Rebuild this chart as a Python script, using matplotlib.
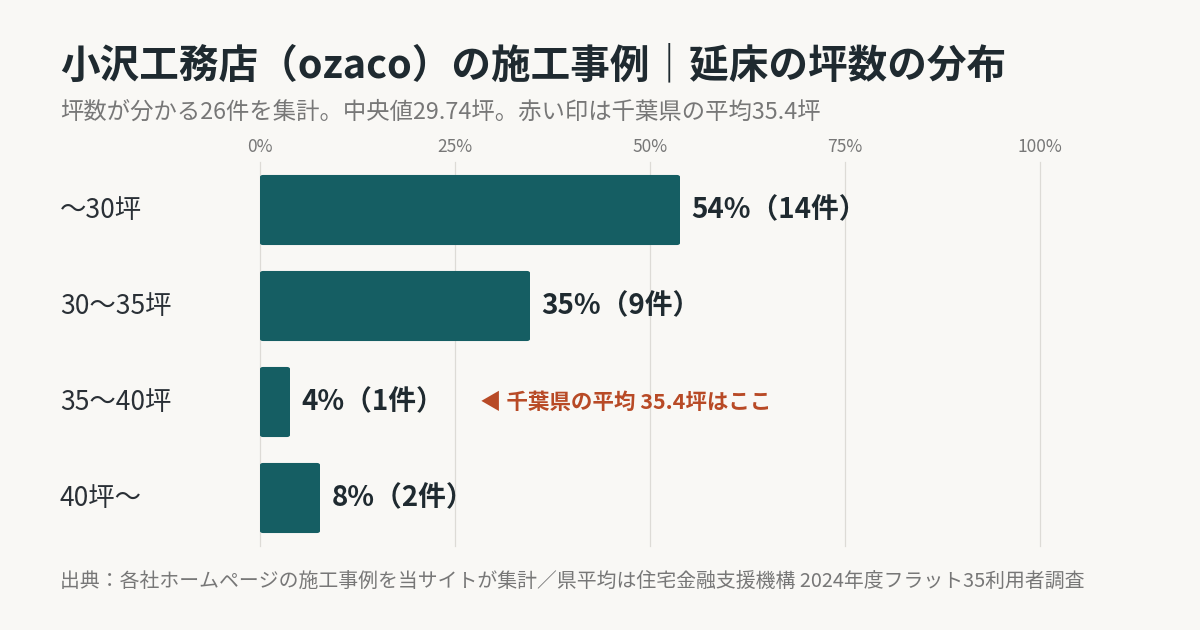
import matplotlib
matplotlib.use("Agg")
import matplotlib.pyplot as plt
from matplotlib.patches import FancyBboxPatch

plt.rcParams['font.family'] = ['Noto Sans CJK JP', 'DejaVu Sans']

categories = ["〜30坪", "30〜35坪", "35〜40坪", "40坪〜"]
counts = [14, 9, 1, 2]
total = 26
ticks = [0, 25, 50, 75, 100]
tick_labels = ["0%", "25%", "50%", "75%", "100%"]
title = "小沢工務店（ozaco）の施工事例｜延床の坪数の分布"
subtitle = "坪数が分かる26件を集計。中央値29.74坪。赤い印は千葉県の平均35.4坪"
note = "◀ 千葉県の平均 35.4坪はここ"
source = "出典：各社ホームページの施工事例を当サイトが集計／県平均は住宅金融支援機構 2024年度フラット35利用者調査"

bg = "#f9f8f5"
bar_c = "#155e63"
W, H = 1200, 630
fig = plt.figure(figsize=(12, 6.3), dpi=100, facecolor=bg)
ax = fig.add_axes([260/W, 1-546/H, 780/W, 384/H])
ax.set_facecolor(bg)
ax.set_xlim(0, 100)
ax.set_ylim(3.5, -0.5)
for t in ticks:
    ax.axvline(t, color="#dddbd6", lw=0.9, zorder=0, clip_on=False)
pcts = [c/total*100 for c in counts]
for i, (p, c) in enumerate(zip(pcts, counts)):
    ax.add_patch(FancyBboxPatch((0, i-0.365), p, 0.73, boxstyle="round,pad=0,rounding_size=0.4",
                                mutation_aspect=0.05, fc=bar_c, ec="none", zorder=2))
    ax.text(p+1.5, i, f"{round(p)}%（{c}件）", va="center", ha="left", fontsize=20,
            fontweight="bold", color="#1f2a30")
    fig.text(60/W, ax.transData.transform((0, i))[1]/H, categories[i], fontsize=19,
             color="#2a3036", va="center", ha="left")
ax.text((480-260)/7.8, 2, note, va="center", ha="left", fontsize=15.5, fontweight="bold", color="#b84a26")
ax.set_xticks(ticks)
ax.set_xticklabels(tick_labels)
ax.xaxis.tick_top()
ax.tick_params(axis="x", length=0, labelsize=12.5, colors="#777", pad=4)
ax.set_yticks([])
for s in ax.spines.values():
    s.set_visible(False)

fig.text(60/W, 1-66/H, title, fontsize=28.5, fontweight="bold", color="#1f2a30", va="center")
fig.text(60/W, 1-112/H, subtitle, fontsize=16.8, color="#777", va="center")
fig.text(60/W, 1-581/H, source, fontsize=14.3, color="#777", va="center")
fig.savefig("out.png", dpi=100, facecolor=bg)
